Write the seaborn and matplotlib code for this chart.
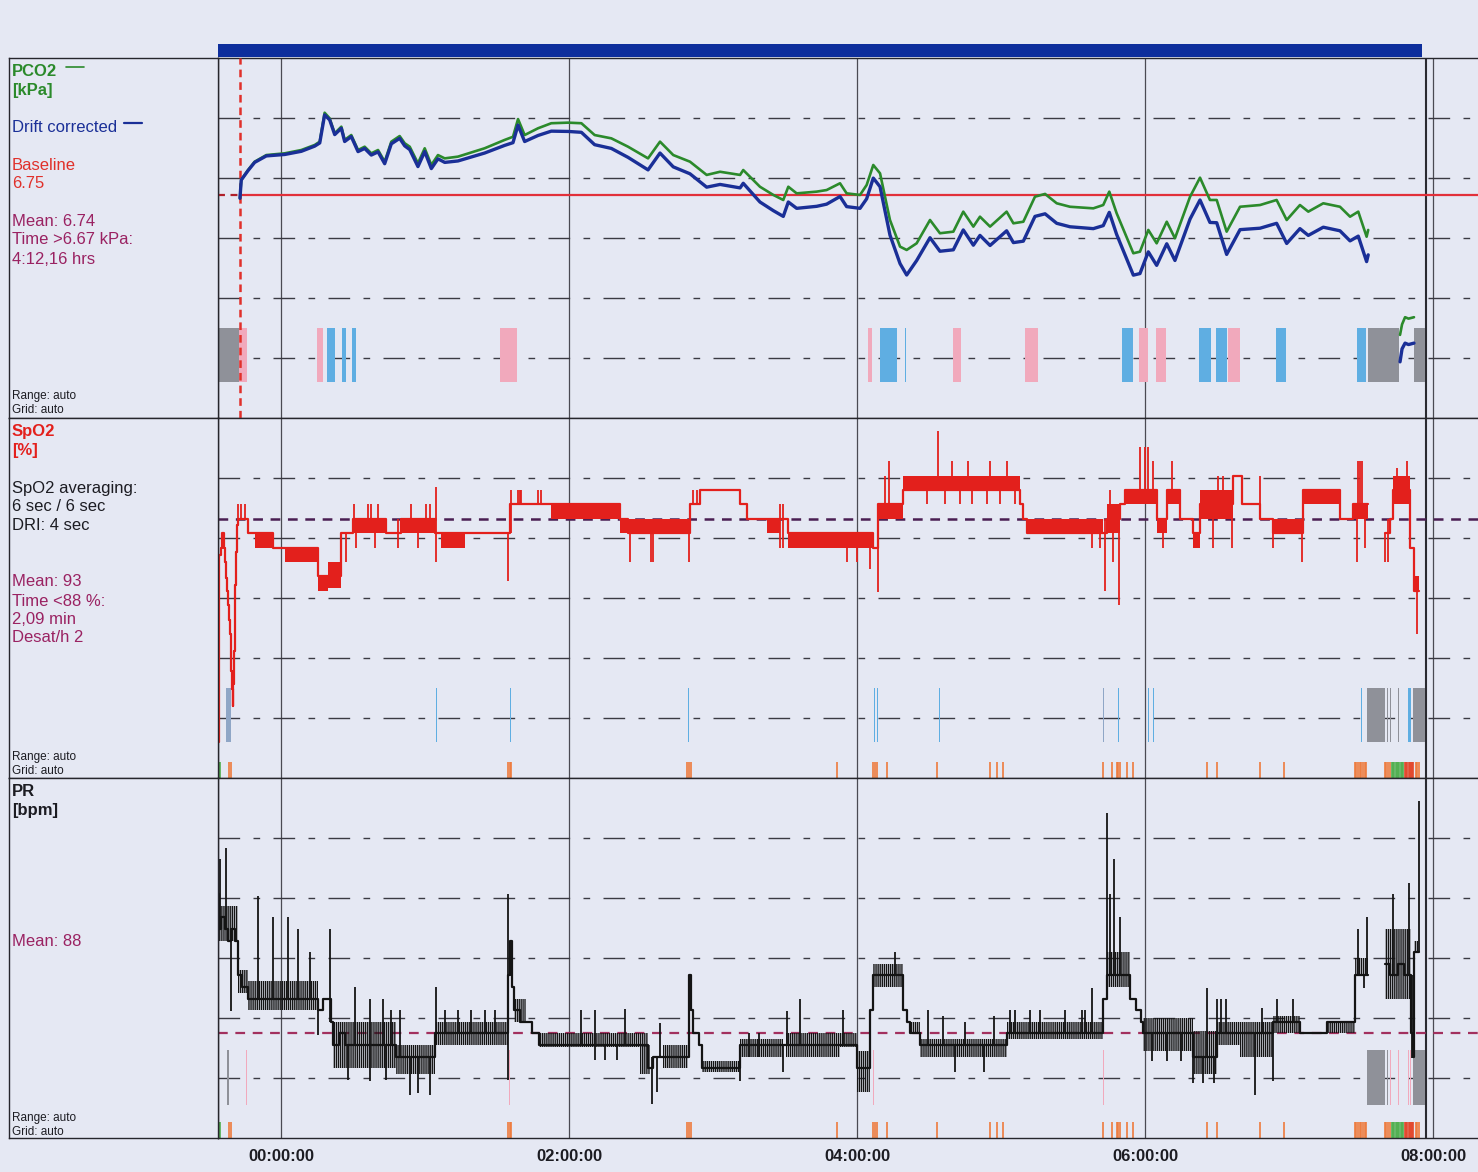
import matplotlib
matplotlib.use("Agg")
import matplotlib.pyplot as plt
from matplotlib.lines import Line2D
import pandas as pd
import seaborn as sns

# ---------------- time axis (hours relative to 00:00:00) ----------------
T_START, T_END = -0.4375, 8.3125
REC_END = 7.951
time_ticks = [0, 2, 4, 6, 8]
time_labels = ["00:00:00", "02:00:00", "04:00:00", "06:00:00", "08:00:00"]
session_start, session_end = -0.4375, 7.924

# ---------------- PCO2 panel ----------------
pco2_lim = (5.2, 7.7)
pco2_ticks = [7.2833, 6.8667, 6.45, 6.0333, 5.6167]
pco2_ticklabels = ["7.29", "6.87", "6.46", "6.05", "5.63"]
pco2_baseline = 6.75
pco2_start = -0.285

pco2_t = [-0.285, -0.276, -0.229, -0.183, -0.102, 0.026, 0.141, 0.234, 0.269, 0.303,
          0.338, 0.373, 0.419, 0.442, 0.488, 0.535, 0.581, 0.627, 0.674, 0.720,
          0.766, 0.824, 0.859, 0.894, 0.951, 0.998, 1.044, 1.090, 1.137, 1.229,
          1.414, 1.553, 1.611, 1.646, 1.692, 1.785, 1.877, 1.993, 2.086, 2.178,
          2.294, 2.410, 2.549, 2.632, 2.724, 2.840, 2.956, 3.049, 3.188, 3.210,
          3.326, 3.419, 3.488, 3.523, 3.581, 3.720, 3.789, 3.882, 3.928, 4.021,
          4.067, 4.113, 4.160, 4.229, 4.299, 4.345, 4.414, 4.507, 4.576, 4.669,
          4.738, 4.808, 4.854, 4.924, 5.039, 5.086, 5.155, 5.236, 5.306, 5.387,
          5.479, 5.641, 5.710, 5.752, 5.803, 5.919, 5.965, 6.023, 6.081, 6.151,
          6.208, 6.313, 6.382, 6.451, 6.498, 6.567, 6.660, 6.799, 6.914, 6.984,
          7.076, 7.134, 7.238, 7.354, 7.424, 7.481, 7.539, 7.550]
pco2_raw = [6.726, 6.853, 6.922, 6.980, 7.026, 7.038, 7.061, 7.096, 7.119, 7.320,
            7.281, 7.177, 7.223, 7.131, 7.165, 7.061, 7.084, 7.038, 7.061, 6.980,
            7.119, 7.158, 7.108, 7.084, 6.969, 7.073, 6.957, 7.026, 7.003, 7.015,
            7.073, 7.131, 7.153, 7.276, 7.165, 7.212, 7.247, 7.251, 7.247, 7.165,
            7.142, 7.084, 7.003, 7.119, 7.026, 6.980, 6.888, 6.910, 6.888, 6.922,
            6.806, 6.749, 6.714, 6.806, 6.760, 6.772, 6.783, 6.830, 6.760, 6.749,
            6.818, 6.957, 6.899, 6.575, 6.390, 6.367, 6.413, 6.575, 6.483, 6.494,
            6.633, 6.529, 6.598, 6.529, 6.633, 6.552, 6.563, 6.737, 6.756, 6.691,
            6.667, 6.656, 6.679, 6.772, 6.622, 6.344, 6.355, 6.506, 6.413, 6.563,
            6.448, 6.737, 6.869, 6.714, 6.714, 6.494, 6.667, 6.679, 6.714, 6.575,
            6.679, 6.633, 6.691, 6.667, 6.598, 6.633, 6.459, 6.506]
pco2_drift = [6.726, 6.853, 6.918, 6.975, 7.020, 7.030, 7.052, 7.088, 7.110, 7.305,
              7.270, 7.168, 7.212, 7.120, 7.154, 7.050, 7.072, 7.026, 7.048, 6.966,
              7.104, 7.142, 7.090, 7.064, 6.946, 7.050, 6.932, 7.000, 6.975, 6.985,
              7.040, 7.093, 7.112, 7.234, 7.120, 7.162, 7.192, 7.190, 7.184, 7.098,
              7.072, 7.010, 6.923, 7.040, 6.944, 6.896, 6.803, 6.822, 6.798, 6.830,
              6.700, 6.640, 6.600, 6.700, 6.656, 6.670, 6.685, 6.738, 6.668, 6.656,
              6.722, 6.866, 6.806, 6.470, 6.272, 6.193, 6.293, 6.452, 6.358, 6.368,
              6.506, 6.400, 6.468, 6.398, 6.500, 6.418, 6.428, 6.600, 6.618, 6.552,
              6.528, 6.515, 6.536, 6.628, 6.475, 6.192, 6.203, 6.354, 6.260, 6.410,
              6.294, 6.582, 6.714, 6.558, 6.556, 6.336, 6.508, 6.518, 6.552, 6.412,
              6.515, 6.468, 6.525, 6.500, 6.430, 6.463, 6.286, 6.333]
pco2_tail_t = [7.771, 7.785, 7.806, 7.830, 7.868]
pco2_tail_raw = [5.777, 5.850, 5.900, 5.890, 5.900]
pco2_tail_drift = [5.590, 5.680, 5.720, 5.710, 5.720]

pco2_ev_start = [-0.4375, -0.294, 0.252, 0.319, 0.426, 0.493, 1.519, 4.076, 4.160, 4.333,
                 4.669, 5.167, 5.838, 5.958, 6.078, 6.377, 6.495, 6.574, 6.908, 7.474,
                 7.551, 7.868]
pco2_ev_end = [-0.294, -0.234, 0.293, 0.377, 0.449, 0.521, 1.639, 4.102, 4.280, 4.341,
               4.722, 5.259, 5.915, 6.023, 6.146, 6.458, 6.567, 6.660, 6.977, 7.533,
               7.766, 7.944]
pco2_ev_kind = ["gray", "pink", "pink", "blue", "blue", "blue", "pink", "pink", "blue", "blue",
                "pink", "pink", "blue", "pink", "pink", "blue", "blue", "pink", "blue", "blue",
                "gray", "gray"]

# ---------------- SpO2 panel ----------------
spo2_lim = (75, 100)
spo2_ticks = [95.8333, 91.6667, 87.5, 83.3333, 79.1667]
spo2_ticklabels = ["95.8", "91.7", "87.5", "83.3", "79.2"]
spo2_mean = 93

spo2_t = [-0.4375, -0.434, -0.420, -0.410, -0.398, -0.388, -0.380, -0.374, -0.368, -0.362,
          -0.356, -0.350, -0.345, -0.339, -0.333, -0.330, -0.326, -0.321, -0.317, -0.313,
          -0.310, -0.306, -0.303, -0.299, -0.229, -0.056, 0.257, 0.419, 0.500, 0.731,
          0.836, 1.070, 1.590, 2.352, 2.410, 2.840, 2.910, 3.188, 3.234, 3.523,
          4.113, 4.148, 4.322, 5.132, 5.155, 5.178, 5.734, 5.826, 5.861, 6.081,
          6.151, 6.243, 6.336, 6.382, 6.614, 6.671, 6.799, 6.891, 7.100, 7.354,
          7.447, 7.551,
          7.667, 7.700, 7.725, 7.840, 7.866, 7.905]
spo2_v = [77.5, 90.5, 91.0, 92.0, 91.0, 90.0, 88.9, 88.0, 87.0, 86.0,
          85.0, 83.5, 82.4, 81.2, 80.0, 81.5, 83.8, 86.5, 88.4, 89.8,
          90.7, 91.8, 92.6, 93.0, 92.0, 91.0, 89.0, 92.0, 93.0, 92.0,
          93.0, 92.0, 94.0, 93.0, 92.0, 94.0, 95.0, 94.0, 93.0, 92.0,
          91.0, 94.0, 95.0, 94.0, 93.0, 92.0, 93.0, 94.0, 95.0, 93.0,
          95.0, 93.0, 92.0, 94.0, 96.0, 94.0, 93.0, 92.0, 95.0, 93.0,
          94.0, 94.0,
          92.0, 93.0, 95.0, 91.0, 88.0, 88.0]
spo2_seg = [1] * 62 + [2] * 6

spo2_band_t0 = [-0.183, 0.026, 0.257, 0.326, 0.500, 0.836, 1.113, 1.877, 2.352, 2.410,
                3.373, 3.523, 3.858, 4.148, 4.322, 5.178, 5.734, 5.861, 6.081, 6.151,
                6.336, 6.382, 6.891, 7.100, 7.447, 7.725, 7.866]
spo2_band_t1 = [-0.056, 0.257, 0.326, 0.419, 0.731, 1.067, 1.275, 2.352, 2.410, 2.840,
                3.465, 3.858, 4.113, 4.322, 5.132, 5.711, 5.826, 6.081, 6.151, 6.243,
                6.382, 6.614, 7.088, 7.354, 7.551, 7.840, 7.905]
spo2_band_lo = [91, 90, 88, 88.2, 92, 92, 91, 93, 92, 92,
                92, 91, 91, 93, 95, 92, 92, 94, 92, 94,
                91, 93, 92, 94, 93, 94, 88]
spo2_band_hi = [92, 91, 89, 90, 93, 93, 92, 94, 93, 93,
                93, 92, 92, 94, 96, 93, 94, 95, 93, 95,
                92, 95, 93, 95, 94, 96, 89]

spo2_spk_t = [-0.299, -0.276, -0.252, 0.454, 0.507, 0.521, 0.604, 0.627, 0.650, 0.674,
              0.813, 0.905, 0.951, 1.009, 1.032, 1.079, 1.576, 1.595, 1.646, 1.657,
              1.669, 1.785, 1.808, 2.421, 2.572, 2.586, 2.836, 2.863, 2.886, 3.465,
              3.488, 3.928, 3.998, 4.090, 4.144, 4.194, 4.225, 4.484, 4.565, 4.611,
              4.657, 4.715, 4.773, 4.796, 4.900, 4.924, 4.993, 5.039, 5.097, 5.630,
              5.688, 5.722, 5.757, 5.780, 5.822, 5.965, 6.000, 6.023, 6.058, 6.128,
              6.186, 6.475, 6.509, 6.544, 6.602, 6.799, 6.891, 7.088, 7.192, 7.239,
              7.285, 7.331, 7.470, 7.481, 7.493, 7.505, 7.528, 7.667, 7.690, 7.748,
              7.817, 7.887]
spo2_spk_lo = [93, 93, 93, 90, 93, 91, 93, 93, 91, 93,
               91, 93, 91, 93, 93, 90, 88.7, 92, 94, 94,
               94, 94, 94, 90, 90, 90, 90, 94, 94, 91,
               91, 90, 90, 89.5, 87.9, 93, 93, 94, 95, 94,
               95, 94, 95, 94, 94, 95, 94, 95, 94, 91,
               91, 88, 92, 90, 87, 95, 95, 95, 95, 91,
               95, 91, 95, 95, 91, 94, 91, 90, 94, 94,
               94, 94, 90, 94, 94, 94, 91, 90, 90, 95,
               95, 85]
spo2_spk_hi = [94, 94, 94, 92, 94, 93, 94, 94, 93, 94,
               93, 94, 93, 94, 94, 95.2, 92, 95, 95, 95,
               95, 95, 95, 92, 92, 92, 92, 95, 95, 94,
               94, 92, 92, 92, 94, 96, 97, 95, 99.1, 95,
               97, 95, 97, 95, 95, 97, 95, 97, 95, 92,
               92, 93, 95, 93, 94, 98, 98, 98, 97, 93,
               97, 93, 96, 96, 93, 96, 93, 92, 95, 95,
               95, 95, 94, 97, 97, 97, 94, 92, 93, 96.5,
               97, 88]

spo2_ev_start = [-0.382, 1.076, 1.590, 2.826, 4.118, 4.139, 4.567, 5.708, 5.813, 6.021,
                 6.056, 7.503, 7.539, 7.681, 7.701, 7.757, 7.824, 7.859]
spo2_ev_end = [-0.347, 1.082, 1.596, 2.832, 4.124, 4.145, 4.573, 5.713, 5.819, 6.027,
               6.062, 7.509, 7.667, 7.687, 7.708, 7.764, 7.845, 7.944]
spo2_ev_kind = ["steel", "blue", "blue", "blue", "blue", "blue", "blue", "steel", "blue", "blue",
                "blue", "blue", "gray", "gray", "gray", "gray", "blue", "gray"]

# desaturation / artefact ticks along the lower edge of SpO2 and PR
desat_t = [-0.363, -0.345, 1.576, 1.590, 1.599, 2.822, 2.834, 2.845, 3.859, 4.113,
           4.125, 4.137, 4.206, 4.553, 4.924, 4.970, 5.016, 5.710, 5.769, 5.803,
           5.815, 5.826, 5.873, 5.919, 6.428, 6.498, 6.799, 6.965, 7.458, 7.468,
           7.478, 7.490, 7.502, 7.514, 7.526, 7.538, 7.667, 7.677, 7.688, 7.699,
           7.880, 7.892, 7.904,
           7.806, 7.814, 7.822, 7.830, 7.838, 7.846, 7.854, 7.862,
           -0.434, -0.426, 7.713, 7.722, 7.731, 7.740, 7.749, 7.758, 7.767, 7.776,
           7.785, 7.794]
desat_kind = ["orange"] * 43 + ["red"] * 8 + ["green"] * 12

# ---------------- PR panel ----------------
pr_lim = (79, 110)
pr_ticks = [104.8333, 99.6667, 94.5, 89.3333, 84.1667]
pr_ticklabels = ["104.8", "99.7", "94.5", "89.3", "84.2"]
pr_mean = 88

pr_t = [-0.4375, -0.430, -0.414, -0.390, -0.368, -0.345, -0.320, -0.299, -0.270, -0.229,
        0.257, 0.290, 0.345, 0.361, 0.400, 0.442, 0.800, 1.067, 1.576, 1.590,
        1.605, 1.620, 1.660, 1.740, 1.790, 2.549, 2.580, 2.836, 2.845, 2.860,
        2.900, 2.921, 3.188, 3.998, 4.090, 4.113, 4.322, 4.345, 4.368, 4.437,
        5.039, 5.711, 5.734, 5.896, 5.940, 5.970, 5.988, 6.336, 6.498, 6.891,
        7.077, 7.262, 7.459, 7.551,
        7.667, 7.700, 7.760, 7.800, 7.850, 7.862, 7.870, 7.905]
pr_v = [100, 97, 98, 97, 96, 97, 96, 93, 92, 91,
        90, 91, 89, 87, 88, 87, 86, 88, 93, 96,
        92, 90, 89, 88, 87, 85, 86, 93, 90, 88,
        87, 85, 87, 85, 90, 93, 90, 89, 88, 87,
        88, 91, 93, 91, 90, 89, 88, 86, 88, 89,
        88, 89, 93, 93,
        94, 93, 94, 93, 88, 86, 95, 95]
pr_seg = [1] * 54 + [2] * 8

pr_band_t0 = [-0.4375, -0.299, -0.229, 0.361, 0.800, 1.079, 1.620, 1.790, 2.493, 2.655,
              2.921, 3.188, 3.510, 3.882, 3.998, 4.113, 4.368, 4.437, 5.039, 5.734,
              5.988, 6.336, 6.498, 6.660, 6.891, 7.262, 7.459, 7.667, 7.870]
pr_band_t1 = [-0.300, -0.229, 0.257, 0.800, 1.067, 1.576, 1.700, 2.549, 2.560, 2.829,
              3.188, 3.488, 3.882, 3.998, 4.090, 4.322, 4.437, 5.039, 5.711, 5.896,
              6.336, 6.498, 6.660, 6.891, 7.077, 7.459, 7.551, 7.850, 7.898]
pr_band_lo = [96, 91.5, 90, 85, 84.5, 87, 89, 86.8, 84.5, 85,
              84.7, 86, 86, 86.8, 83, 92, 88, 86, 87.5, 92,
              86.5, 84.5, 87, 86, 88, 88, 93, 91, 95]
pr_band_hi = [99, 93.5, 92.5, 89, 87, 89, 91, 88, 87, 87,
              85.6, 87.5, 88, 88, 86.5, 94, 89, 87.5, 89, 95,
              89.3, 88.2, 89, 89, 89.5, 89, 94.5, 97, 96]

pr_spk_t = [-0.426, -0.380, -0.345, -0.160, -0.056, 0.049, 0.118, 0.199, 0.257, 0.338,
            0.465, 0.512, 0.616, 0.708, 0.731, 0.766, 0.824, 0.894, 0.951, 1.032,
            1.079, 1.137, 1.230, 1.320, 1.414, 1.484, 1.576, 2.086, 2.178, 2.250,
            2.330, 2.387, 2.574, 2.610, 2.632, 3.188, 3.250, 3.320, 3.488, 3.511,
            3.604, 3.905, 4.264, 4.495, 4.600, 4.680, 4.750, 4.880, 4.950, 5.060,
            5.100, 5.200, 5.271, 5.444, 5.560, 5.584, 5.630, 5.734, 5.757, 5.785,
            5.826, 6.050, 6.150, 6.250, 6.336, 6.405, 6.428, 6.479, 6.500, 6.530,
            6.560, 6.764, 6.810, 6.891, 6.915, 7.030, 7.477, 7.520, 7.539, 7.725,
            7.830, 7.852, 7.900]
pr_spk_lo = [97, 97, 89.9, 91, 91, 91, 91, 91, 87.9, 89,
             84, 87, 83.9, 87, 84, 87, 86, 82.7, 82.9, 82.7,
             88, 88, 88, 88, 88, 88, 84, 87, 85.7, 85.7,
             85.7, 87, 81.9, 83, 86, 83.9, 86, 86, 84.7, 87,
             87, 87, 93, 87, 87, 84.7, 87, 84.7, 87, 88,
             88, 88, 88, 88, 88, 88, 88, 93, 93, 93,
             93, 85.6, 85.6, 85.6, 83.7, 83.7, 86, 83.7, 88, 88,
             88, 82.7, 88, 83.9, 89, 89, 93, 91.9, 93, 93,
             93, 85.9, 95]
pr_spk_hi = [103, 104, 97, 99.8, 98, 98, 97, 95, 90, 97,
             87, 92, 91, 91, 87, 90, 90, 86, 86, 86,
             92, 90, 90, 90, 90, 90, 100, 90, 90, 87,
             87, 90.1, 86, 86, 88.9, 87, 88, 88, 87, 89.9,
             91, 90, 95, 90, 89.5, 87, 89, 87, 89.5, 90,
             90, 90, 90, 90, 90, 90, 91.9, 107, 100, 103,
             98, 88, 88, 88, 86, 86, 91.9, 86, 91, 91,
             91, 88, 90.2, 89, 91, 91, 97, 93, 98, 100,
             101, 93, 108]

pr_ev_start = [-0.372, -0.243, 1.586, 2.831, 4.111, 5.708, 5.824, 7.542, 7.681, 7.701,
               7.757, 7.826, 7.840, 7.861]
pr_ev_end = [-0.360, -0.239, 1.590, 2.835, 4.115, 5.712, 5.828, 7.667, 7.687, 7.708,
             7.764, 7.832, 7.846, 7.944]
pr_ev_kind = ["gray", "pink", "pink", "pink", "pink", "pink", "pink", "gray", "gray", "pink",
              "pink", "pink", "pink", "gray"]

# ---------------- styling ----------------
W, H = 1478, 1172
BG = "#E5E8F3"
GREEN = "#2B8A2B"
NAVY = "#1A2F97"
RED = "#E3201C"
MAROON = "#9A2262"
INK = "#1C1C22"
EV_COL = {"pink": "#F1A9BC", "blue": "#5FAEE2", "gray": "#8F9199", "steel": "#8FA6C6"}
TICK_COL = {"orange": "#EE7A3C", "red": "#E2462A", "green": "#4FAF4F"}
GRID_DASH = (0, (15.6, 9.6, 4.8, 9.6))

sns.set_theme(style="white")
plt.rcParams["font.family"] = ["Liberation Sans", "DejaVu Sans"]
plt.rcParams["lines.scale_dashes"] = False
plt.rcParams["hatch.linewidth"] = 1.0

fig = plt.figure(figsize=(W / 100, H / 100), dpi=100)
fig.patch.set_facecolor(BG)

PLOT_L, PLOT_R, BOX_L = 218, 1478, 9
PH = 360
tops = [58, 418, 778]


def panel(top):
    ax = fig.add_axes([PLOT_L / W, 1 - (top + PH) / H, (PLOT_R - PLOT_L) / W, PH / H])
    ax.set_facecolor(BG)
    ax.set_xlim(T_START, T_END)
    ax.set_axisbelow(True)
    for side in ("left", "top", "bottom"):
        ax.spines[side].set_color("#26262c")
        ax.spines[side].set_linewidth(1.0)
    ax.spines["right"].set_visible(False)
    ax.set_xticks(time_ticks)
    ax.grid(axis="x", color="#4a4a52", lw=0.9, linestyle="-")
    ax.grid(axis="y", color="#3a3a42", lw=1.0, linestyle=GRID_DASH)
    ax.tick_params(axis="y", length=0, pad=3, labelsize=11, labelcolor="#333338")
    ax.tick_params(axis="x", length=0, pad=8, labelsize=12, labelcolor=INK)
    ax.axvline(REC_END, color="#2a2a30", lw=1.5, zorder=1)
    box = fig.add_axes([BOX_L / W, 1 - (top + PH) / H, (PLOT_L - BOX_L) / W, PH / H])
    box.set_facecolor(BG)
    box.set_xticks([])
    box.set_yticks([])
    for s in box.spines.values():
        s.set_color("#26262c")
        s.set_linewidth(1.0)
    return ax


def end_labels(ax, top_txt, bot_txt, color):
    ax.text(-0.0025, 1 - 10 / PH, top_txt, transform=ax.transAxes, ha="right", va="center",
            fontsize=11, fontweight="bold", color=color)
    ax.text(-0.0025, 10 / PH, bot_txt, transform=ax.transAxes, ha="right", va="center",
            fontsize=11, fontweight="bold", color=color)


def events(ax, starts, ends, kinds, lo, hi):
    widths = [e - s for s, e in zip(starts, ends)]
    ax.bar(starts, [hi - lo] * len(starts), width=widths, bottom=lo, align="edge",
           color=[EV_COL[k] for k in kinds], linewidth=0, zorder=2)


def bands(ax, t0, t1, lo, hi, color, hatch):
    # rapid toggling between neighbouring levels, drawn as a dense comb
    ax.bar(t0, [h - l for l, h in zip(lo, hi)], width=[b - a for a, b in zip(t0, t1)],
           bottom=lo, align="edge", facecolor="none", edgecolor=color, hatch=hatch,
           linewidth=0, zorder=3)


def lower_ticks(ax):
    ax.vlines(desat_t, 0.0, 16 / PH, transform=ax.get_xaxis_transform(),
              colors=[TICK_COL[k] for k in desat_kind], lw=1.2, zorder=2)


def ltext(x, y, s, color=INK, size=12, weight="normal"):
    fig.text(x / W, 1 - y / H, s, color=color, fontsize=size, fontweight=weight,
             ha="left", va="center")


# ---- session bar on top ----
bar_ax = fig.add_axes([PLOT_L / W, 1 - 57 / H, (PLOT_R - PLOT_L) / W, 13 / H])
bar_ax.set_xlim(T_START, T_END)
bar_ax.set_ylim(0, 1)
bar_ax.barh(0.5, session_end - session_start, left=session_start, height=1.0,
            color="#0E2E9C", linewidth=0)
bar_ax.axis("off")

# ---- PCO2 ----
ax1 = panel(tops[0])
ax1.set_ylim(*pco2_lim)
ax1.set_yticks(pco2_ticks, labels=pco2_ticklabels)
ax1.set_xticklabels([])
end_labels(ax1, "7.7", "5.2", GREEN)
ax1.plot([T_START, pco2_start], [pco2_baseline] * 2, color="#B0202A", lw=1.6,
         linestyle=(0, (5, 4)), zorder=3)
ax1.axhline(pco2_baseline, xmin=(pco2_start - T_START) / (T_END - T_START),
            color="#E2303A", lw=1.6, zorder=3)
ax1.axvline(pco2_start, color="#E0302A", lw=1.8, linestyle=(0, (5.5, 3.6)), zorder=3)
events(ax1, pco2_ev_start, pco2_ev_end, pco2_ev_kind, 5.45, 5.825)
pco2_df = pd.DataFrame({"t": pco2_t, "raw": pco2_raw, "drift": pco2_drift})
tail_df = pd.DataFrame({"t": pco2_tail_t, "raw": pco2_tail_raw, "drift": pco2_tail_drift})
for df in (pco2_df, tail_df):
    sns.lineplot(data=df, x="t", y="raw", ax=ax1, color=GREEN, lw=1.9,
                 estimator=None, sort=False, zorder=4)
    sns.lineplot(data=df, x="t", y="drift", ax=ax1, color=NAVY, lw=2.4,
                 estimator=None, sort=False, zorder=5)
ax1.set_xlabel("")
ax1.set_ylabel("")

# ---- SpO2 ----
ax2 = panel(tops[1])
ax2.set_ylim(*spo2_lim)
ax2.set_yticks(spo2_ticks, labels=spo2_ticklabels)
ax2.set_xticklabels([])
end_labels(ax2, "100", "75", RED)
ax2.axhline(spo2_mean, color="#4A1E52", lw=1.8, linestyle=(0, (7, 5.5)), zorder=2)
events(ax2, spo2_ev_start, spo2_ev_end, spo2_ev_kind, 77.5, 81.25)
lower_ticks(ax2)
bands(ax2, spo2_band_t0, spo2_band_t1, spo2_band_lo, spo2_band_hi, RED, "|" * 12)
ax2.vlines(spo2_spk_t, spo2_spk_lo, spo2_spk_hi, color=RED, lw=1.3, zorder=3)
spo2_df = pd.DataFrame({"t": spo2_t, "v": spo2_v, "seg": spo2_seg})
sns.lineplot(data=spo2_df, x="t", y="v", units="seg", ax=ax2, color=RED, lw=1.6,
             estimator=None, sort=False, drawstyle="steps-post", zorder=4)
ax2.set_xlabel("")
ax2.set_ylabel("")

# ---- PR ----
ax3 = panel(tops[2])
ax3.set_ylim(*pr_lim)
ax3.set_yticks(pr_ticks, labels=pr_ticklabels)
ax3.set_xticklabels(time_labels, fontweight="bold")
end_labels(ax3, "110", "79", INK)
ax3.axhline(pr_mean, color="#A2305E", lw=1.6, linestyle=(0, (7, 5.5)), zorder=2)
events(ax3, pr_ev_start, pr_ev_end, pr_ev_kind, 81.84, 86.58)
lower_ticks(ax3)
bands(ax3, pr_band_t0, pr_band_t1, pr_band_lo, pr_band_hi, "#141414", "|" * 8)
ax3.vlines(pr_spk_t, pr_spk_lo, pr_spk_hi, color="#141414", lw=1.3, zorder=3)
pr_df = pd.DataFrame({"t": pr_t, "v": pr_v, "seg": pr_seg})
sns.lineplot(data=pr_df, x="t", y="v", units="seg", ax=ax3, color="#141414", lw=1.6,
             estimator=None, sort=False, drawstyle="steps-post", zorder=4)
ax3.set_xlabel("")
ax3.set_ylabel("")

# ---- left-hand legends / statistics ----
ltext(12, 71, "PCO2", GREEN, 12, "bold")
fig.add_artist(Line2D([66 / W, 84 / W], [1 - 67 / H] * 2, color=GREEN, lw=1.2))
ltext(12, 90, "[kPa]", GREEN, 12, "bold")
ltext(12, 127, "Drift corrected", NAVY, 12)
fig.add_artist(Line2D([124 / W, 142 / W], [1 - 123 / H] * 2, color=NAVY, lw=1.6))
ltext(12, 165, "Baseline", "#E0302A", 12)
ltext(12, 184, "6.75", "#E0302A", 12)
ltext(12, 221, "Mean: 6.74", MAROON, 12)
ltext(12, 240, "Time >6.67 kPa:", MAROON, 12)
ltext(12, 259, "4:12,16 hrs", MAROON, 12)
ltext(12, 396, "Range: auto", INK, 8.5)
ltext(12, 410, "Grid: auto", INK, 8.5)

ltext(12, 432, "SpO2", RED, 12, "bold")
ltext(12, 451, "[%]", RED, 12, "bold")
ltext(12, 488, "SpO2 averaging:", INK, 12)
ltext(12, 507, "6 sec / 6 sec", INK, 12)
ltext(12, 526, "DRI: 4 sec", INK, 12)
ltext(12, 582, "Mean: 93", MAROON, 12)
ltext(12, 601, "Time <88 %:", MAROON, 12)
ltext(12, 620, "2,09 min", MAROON, 12)
ltext(12, 638, "Desat/h 2", MAROON, 12)
ltext(12, 757, "Range: auto", INK, 8.5)
ltext(12, 771, "Grid: auto", INK, 8.5)

ltext(12, 792, "PR", INK, 12, "bold")
ltext(12, 811, "[bpm]", INK, 12, "bold")
ltext(12, 942, "Mean: 88", MAROON, 12)
ltext(12, 1118, "Range: auto", INK, 8.5)
ltext(12, 1132, "Grid: auto", INK, 8.5)

fig.savefig("out.png", dpi=100, facecolor=BG)
